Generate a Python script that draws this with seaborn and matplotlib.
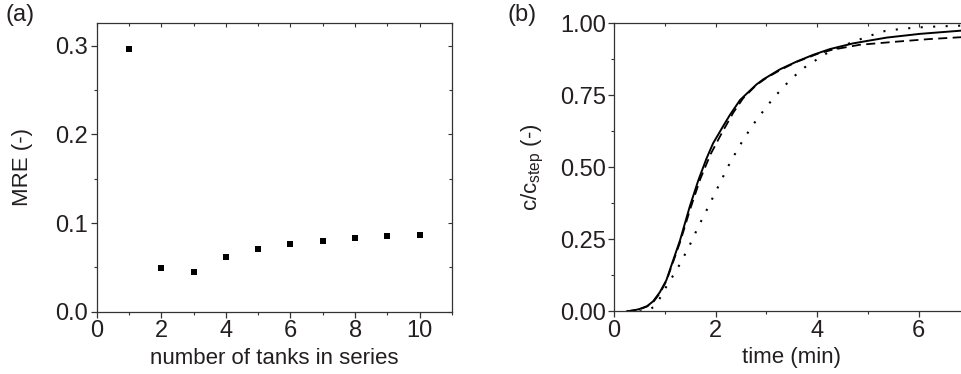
import numpy as np
import pandas as pd
import matplotlib
matplotlib.use("Agg")
import matplotlib.pyplot as plt
from matplotlib.ticker import MultipleLocator
import seaborn as sns

# (a) mean relative error vs number of tanks
n_tanks = [1, 2, 3, 4, 5, 6, 7, 8, 9, 10]
mre = [0.296, 0.049, 0.045, 0.062, 0.071, 0.076, 0.080, 0.083, 0.085, 0.087]

# (b) step response curves
t_solid = [0.25, 0.38, 0.5, 0.65, 0.77, 0.9, 1.03, 1.15, 1.3, 1.49, 1.66, 1.82, 1.95,
           2.15, 2.28, 2.48, 2.61, 2.81, 2.94, 3.27, 3.6, 3.92, 4.25, 4.71, 5.37,
           6.03, 6.9]
c_solid = [0.0, 0.003, 0.008, 0.018, 0.035, 0.066, 0.108, 0.17, 0.247, 0.363, 0.455,
           0.53, 0.583, 0.643, 0.681, 0.733, 0.755, 0.788, 0.805, 0.840, 0.867,
           0.890, 0.910, 0.930, 0.950, 0.963, 0.975]

t_dash = [0.25, 0.5, 0.65, 0.77, 0.9, 1.03, 1.15, 1.3, 1.5, 1.7, 1.9, 2.12, 2.35,
          2.54, 2.8, 3.0, 3.3, 3.6, 4.0, 4.3, 4.84, 5.57, 6.22, 6.9]
c_dash = [0.0, 0.007, 0.017, 0.032, 0.062, 0.105, 0.165, 0.24, 0.355, 0.46, 0.545,
          0.618, 0.69, 0.739, 0.785, 0.81, 0.84, 0.866, 0.893, 0.908, 0.925,
          0.936, 0.945, 0.952]

t_dot = [0.5, 0.6, 0.7, 0.8, 0.9, 1.02, 1.26, 1.47, 1.66, 1.86, 2.06, 2.25, 2.46,
         2.71, 2.87, 3.02, 3.18, 3.36, 3.55, 3.75, 3.96, 4.15, 4.45, 4.75, 5.05,
         5.34, 5.65, 5.96, 6.3, 6.9]
c_dot = [0.0, 0.002, 0.006, 0.018, 0.045, 0.083, 0.152, 0.222, 0.294, 0.364, 0.436,
         0.504, 0.571, 0.641, 0.679, 0.714, 0.748, 0.783, 0.816, 0.846, 0.870,
         0.892, 0.917, 0.938, 0.957, 0.973, 0.980, 0.985, 0.988, 0.992]

sns.set_style("ticks")
plt.rcParams["font.family"] = ["Liberation Sans", "DejaVu Sans"]
plt.rcParams["mathtext.default"] = "regular"
txt = "#231f20"
plt.rcParams["text.color"] = txt
plt.rcParams["axes.labelcolor"] = txt
plt.rcParams["xtick.color"] = "#333333"
plt.rcParams["ytick.color"] = "#333333"
plt.rcParams["xtick.labelcolor"] = txt
plt.rcParams["ytick.labelcolor"] = txt

tick_fs = 17
label_fs = 16

fig = plt.figure(figsize=(9.61, 3.74), dpi=100)
ax1 = fig.add_axes([0.1006, 0.1666, 0.3697, 0.7719])
ax2 = fig.add_axes([0.639, 0.1675, 0.3697, 0.7705])

df_a = pd.DataFrame({"n": n_tanks, "mre": mre})
sns.scatterplot(data=df_a, x="n", y="mre", ax=ax1, marker="s", s=22,
                color="black", edgecolor="black", linewidth=0)

curves = [(t_solid, c_solid, "-", 1.4),
          (t_dash, c_dash, (0, (5, 3)), 1.3),
          (t_dot, c_dot, (0, (1, 5)), 1.5)]
for t, c, ls, lw in curves:
    sns.lineplot(x=t, y=c, ax=ax2, color="black", linestyle=ls, linewidth=lw,
                 sort=False, estimator=None)

ax1.set_xlim(0, 11)
ax1.set_ylim(0, 0.3256)
ax1.xaxis.set_major_locator(MultipleLocator(2))
ax1.xaxis.set_minor_locator(MultipleLocator(1))
ax1.yaxis.set_major_locator(MultipleLocator(0.1))
ax1.yaxis.set_minor_locator(MultipleLocator(0.05))
ax1.yaxis.set_major_formatter(matplotlib.ticker.FormatStrFormatter("%.1f"))
ax1.set_xlabel("number of tanks in series", fontsize=label_fs, labelpad=4)
ax1.set_ylabel("MRE (-)", fontsize=label_fs, labelpad=16)

ax2.set_xlim(0, 7)
ax2.set_ylim(0, 1.0)
ax2.xaxis.set_major_locator(MultipleLocator(2))
ax2.xaxis.set_minor_locator(MultipleLocator(1))
ax2.yaxis.set_major_locator(MultipleLocator(0.25))
ax2.yaxis.set_minor_locator(MultipleLocator(0.125))
ax2.yaxis.set_major_formatter(matplotlib.ticker.FormatStrFormatter("%.2f"))
ax2.set_xlabel("time (min)", fontsize=label_fs, labelpad=4)
ax2.set_ylabel(r"c/c$_{step}$ (-)", fontsize=label_fs, labelpad=10)

for ax in (ax1, ax2):
    for s in ax.spines.values():
        s.set_visible(True)
        s.set_color("#333333")
        s.set_linewidth(0.9)
    ax.tick_params(which="major", direction="out", length=4, width=0.9,
                   labelsize=tick_fs, pad=2)
    ax.tick_params(which="minor", direction="out", length=2.5, width=0.8)
    top = ax.secondary_xaxis("top")
    top.xaxis.set_major_locator(ax.xaxis.get_major_locator())
    top.xaxis.set_minor_locator(ax.xaxis.get_minor_locator())
    top.tick_params(which="both", direction="in", labeltop=False, width=0.8,
                    length=3)
    top.tick_params(which="minor", length=2)
    top.spines["top"].set_visible(False)
    right = ax.secondary_yaxis("right")
    right.yaxis.set_major_locator(ax.yaxis.get_major_locator())
    right.yaxis.set_minor_locator(ax.yaxis.get_minor_locator())
    right.tick_params(which="both", direction="in", labelright=False, width=0.8,
                      length=3)
    right.tick_params(which="minor", length=2)
    right.spines["right"].set_visible(False)

fig.text(0.006, 0.99, "(a)", fontsize=tick_fs, va="top", ha="left")
fig.text(0.528, 0.99, "(b)", fontsize=tick_fs, va="top", ha="left")

fig.savefig("out.png", dpi=100)
